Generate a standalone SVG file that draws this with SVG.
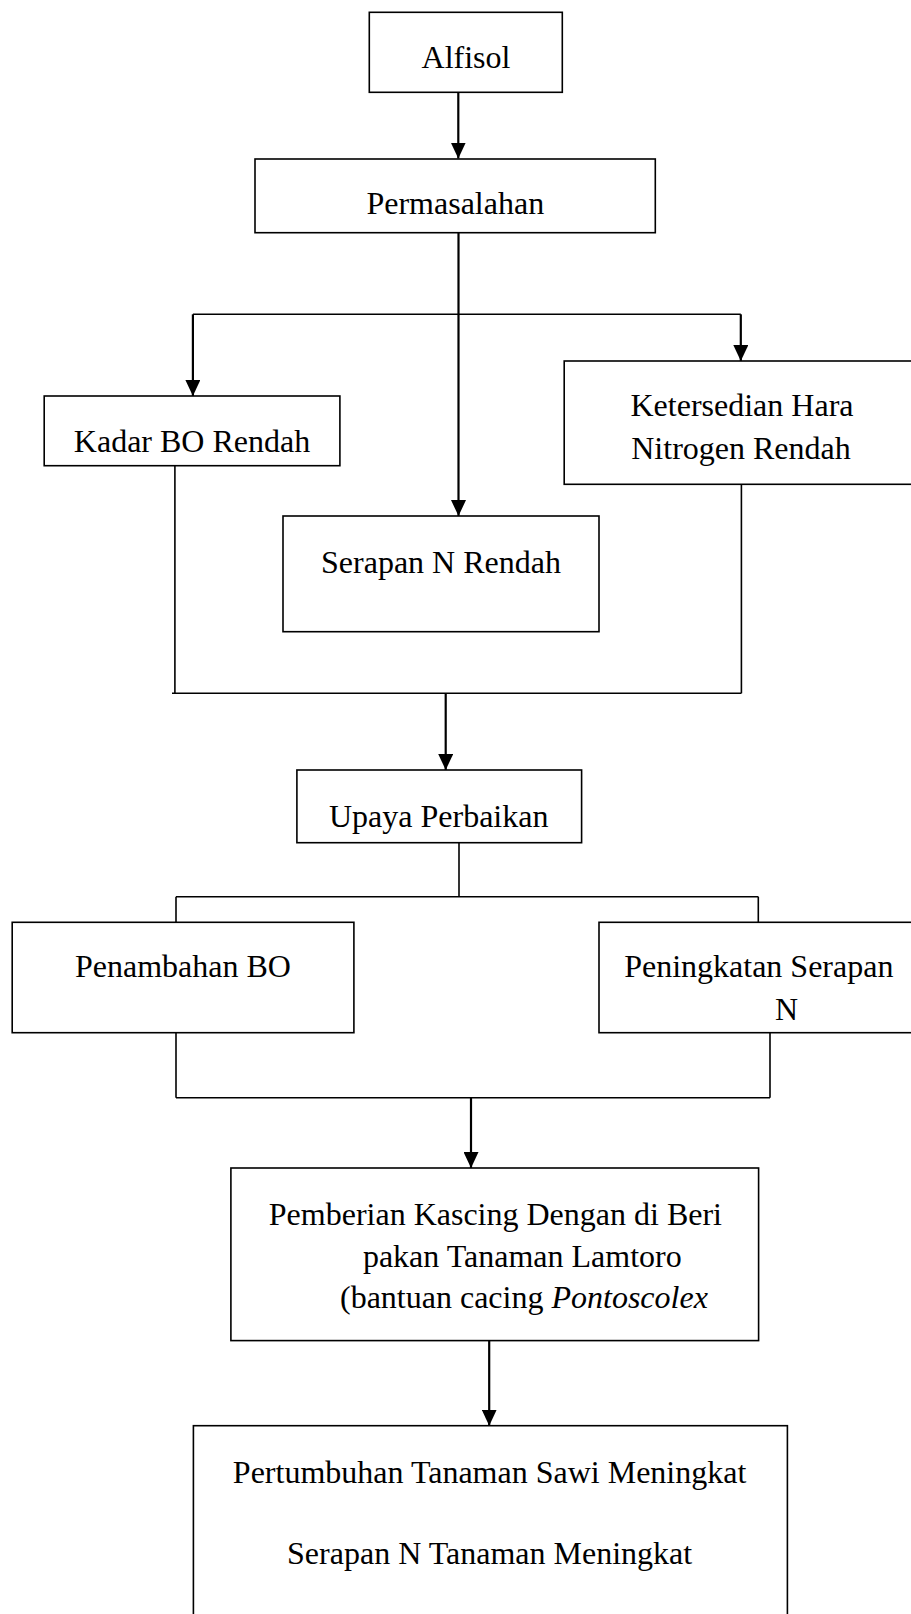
<svg xmlns="http://www.w3.org/2000/svg" width="911" height="1614" viewBox="0 0 911 1614">
<style>
.box{fill:#fff;stroke:#000;stroke-width:1.6}
.t{font-family:"Liberation Serif","Times New Roman",serif;font-size:32px;fill:#000}
.c{text-anchor:middle}
.ln{fill:none;stroke:#000;stroke-width:1.6}
.ar{fill:none;stroke:#000;stroke-width:2.2}
</style>
<defs>
<marker id="ah" viewBox="0 0 16 15" refX="16" refY="7.5" markerWidth="16" markerHeight="15" markerUnits="userSpaceOnUse" orient="auto">
<path d="M0,0 L16,7.5 L0,15 Z" fill="#000"/>
</marker>
</defs>
<rect width="911" height="1614" fill="#fff"/>
<g id="connectors">
<line class="ar" x1="458.3" y1="92.3" x2="458.3" y2="158.5" marker-end="url(#ah)"/>
<line class="ar" x1="458.5" y1="232.7" x2="458.5" y2="516" marker-end="url(#ah)"/>
<line class="ln" x1="192.9" y1="314.3" x2="740.8" y2="314.3"/>
<line class="ar" x1="192.9" y1="314.3" x2="192.9" y2="396" marker-end="url(#ah)"/>
<line class="ar" x1="740.8" y1="314.3" x2="740.8" y2="361" marker-end="url(#ah)"/>
<line class="ln" x1="174.9" y1="462" x2="174.9" y2="693.3"/>
<line class="ln" x1="172" y1="693.3" x2="741.4" y2="693.3"/>
<line class="ln" x1="741.4" y1="484.3" x2="741.4" y2="693.3"/>
<line class="ar" x1="445.7" y1="693.3" x2="445.7" y2="770" marker-end="url(#ah)"/>
<line class="ln" x1="459" y1="842.7" x2="459" y2="896.7"/>
<line class="ln" x1="176" y1="896.7" x2="758.3" y2="896.7"/>
<line class="ln" x1="176" y1="896.7" x2="176" y2="922.3"/>
<line class="ln" x1="758.3" y1="896.7" x2="758.3" y2="922.3"/>
<line class="ln" x1="176" y1="1032.7" x2="176" y2="1097.7"/>
<line class="ln" x1="770" y1="1032.7" x2="770" y2="1097.7"/>
<line class="ln" x1="176" y1="1097.7" x2="770" y2="1097.7"/>
<line class="ar" x1="471" y1="1097.7" x2="471" y2="1168" marker-end="url(#ah)"/>
<line class="ar" x1="489.2" y1="1340.6" x2="489.2" y2="1425.7" marker-end="url(#ah)"/>
</g>
<g id="alfisol">
<rect class="box" x="369.3" y="12.3" width="193" height="80"/>
<text class="t c" x="466" y="68">Alfisol</text>
</g>
<g id="permasalahan">
<rect class="box" x="255" y="159" width="400.3" height="73.7"/>
<text class="t c" x="455.3" y="214">Permasalahan</text>
</g>
<g id="kadar-bo">
<rect class="box" x="44.2" y="396" width="295.7" height="69.7"/>
<text class="t c" x="192" y="451.7">Kadar BO Rendah</text>
</g>
<g id="serapan-n">
<rect class="box" x="283" y="516" width="316" height="115.7"/>
<text class="t c" x="441" y="573">Serapan N Rendah</text>
</g>
<g id="ketersedian">
<rect class="box" x="564.2" y="361" width="360" height="123.3"/>
<text class="t c" x="742" y="416">Ketersedian Hara</text>
<text class="t c" x="741" y="459.3">Nitrogen Rendah</text>
</g>
<g id="upaya">
<rect class="box" x="296.9" y="770" width="284.7" height="72.7"/>
<text class="t c" x="438.7" y="826.7">Upaya Perbaikan</text>
</g>
<g id="penambahan">
<rect class="box" x="12.2" y="922.3" width="341.7" height="110.4"/>
<text class="t c" x="183" y="976.7">Penambahan BO</text>
</g>
<g id="peningkatan">
<rect class="box" x="599" y="922.3" width="330" height="110.4"/>
<text class="t c" x="758.8" y="976.7">Peningkatan Serapan</text>
<text class="t c" x="786.5" y="1020">N</text>
</g>
<g id="pemberian">
<rect class="box" x="230.9" y="1168" width="527.7" height="172.6"/>
<text class="t" x="268.8" y="1224.8">Pemberian Kascing Dengan di Beri</text>
<text class="t" x="362.9" y="1267.3">pakan Tanaman Lamtoro</text>
<text class="t" x="340" y="1307.5">(bantuan cacing <tspan font-style="italic">Pontoscolex</tspan></text>
</g>
<g id="hasil">
<rect class="box" x="193.4" y="1425.7" width="594" height="250"/>
<text class="t c" x="489.6" y="1483">Pertumbuhan Tanaman Sawi Meningkat</text>
<text class="t c" x="489.6" y="1564.3">Serapan N Tanaman Meningkat</text>
</g>
</svg>
